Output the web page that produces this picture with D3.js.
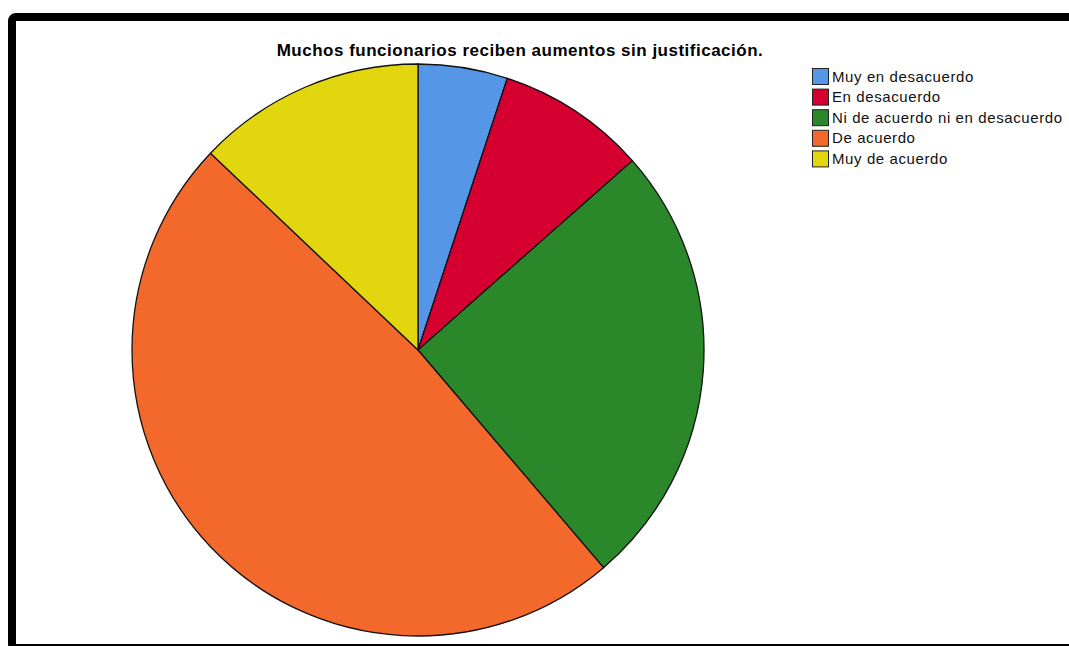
<!DOCTYPE html>
<html>
<head>
<meta charset="utf-8">
<script src="https://cdn.jsdelivr.net/npm/d3@7"></script>
<style>
  body { margin: 0; background: #fff; overflow: hidden; }
  svg { display: block; }
</style>
</head>
<body>
<script>
    // categories, counts and colours
    var categories = ["Muy en desacuerdo", "En desacuerdo", "Ni de acuerdo ni en desacuerdo", "De acuerdo", "Muy de acuerdo"];
    var counts = [9, 15, 45, 86, 23];
    var colors = ["#5596e6", "#d5002f", "#2a872a", "#f2692b", "#e2d70f"];
    var title = "Muchos funcionarios reciben aumentos sin justificación.";

    var width = 1069, height = 646;

    var svg = d3.select("body")
        .append("svg").attr("width", width).attr("height", height);

    // black frame (runs off the right and bottom edges)
    svg.append("rect")
        .attr("x", 12).attr("y", 17)
        .attr("width", 1200).attr("height", 631)
        .attr("rx", 4)
        .style("fill", "#fff")
        .style("stroke", "#000")
        .style("stroke-width", 8);

    svg.append("text")
        .attr("x", 520)
        .attr("y", 56)
        .attr("text-anchor", "middle")
        .style("font-family", "Liberation Sans, Arial, sans-serif")
        .style("font-size", "17px")
        .style("letter-spacing", "0.5px")
        .style("font-weight", "bold")
        .text(title);

    var data = categories.map(function(c, i){ return {name: c, value: counts[i], color: colors[i]}; });

    var pie = d3.pie().sort(null).value(function(d){ return d.value; });
    var arc = d3.arc().innerRadius(0).outerRadius(286);

    var g = svg.append("g").attr("transform", "translate(418,350)");
    g.selectAll("path")
        .data(pie(data))
        .enter().append("path")
        .attr("d", arc)
        .style("fill", function(d){ return d.data.color; })
        .style("stroke", "#111")
        .style("stroke-width", 1.3);

    var legend = svg.append("g").attr("transform", "translate(812,68)");
    var row = legend.selectAll("g")
        .data(data)
        .enter().append("g")
        .attr("transform", function(d, i){ return "translate(0," + (i * 20.6) + ")"; });

    row.append("rect")
        .attr("x", 0.5).attr("y", 0.5)
        .attr("width", 16).attr("height", 16)
        .style("fill", function(d){ return d.color; })
        .style("stroke", "#222")
        .style("stroke-width", 1);

    row.append("text")
        .attr("x", 20)
        .attr("y", 13.5)
        .style("font-family", "Liberation Sans, Arial, sans-serif")
        .style("font-size", "15px")
        .style("letter-spacing", "0.6px")
        .style("fill", "#111")
        .text(function(d){ return d.name; });
</script>
</body>
</html>
